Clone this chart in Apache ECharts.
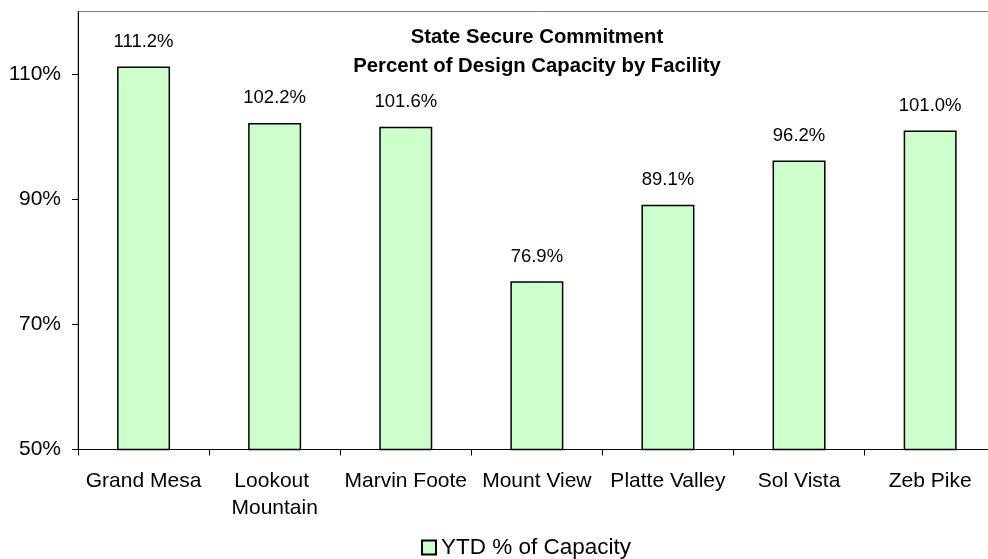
<!DOCTYPE html>
<html>
<head>
<meta charset="utf-8">
<script src="https://cdn.jsdelivr.net/npm/echarts@6/dist/echarts.min.js"></script>
<style>html,body{margin:0;padding:0;background:#fff;overflow:hidden;width:988px;height:559px}#c{width:998px;height:559px}</style>
</head>
<body>
<div id="c"></div>
<script>
var categories = ["Grand Mesa", "Lookout Mountain", "Marvin Foote", "Mount View", "Platte Valley", "Sol Vista", "Zeb Pike"];
var ytdCapacity = [111.2, 102.2, 101.6, 76.9, 89.1, 96.2, 101.0];
var yTicks = [50, 70, 90, 110];
var seriesName = "YTD % of Capacity";
var titleLines = ["State Secure Commitment", "Percent of Design Capacity by Facility"];

var FONT = '"Liberation Sans", Arial, sans-serif';
var chart = echarts.init(document.getElementById('c'), null, {renderer: 'canvas'});
chart.setOption({
  animation: false,
  backgroundColor: '#ffffff',
  title: {
    text: titleLines.join('\n'),
    left: 537,
    textAlign: 'center',
    top: 23,
    padding: 0,
    textStyle: {fontFamily: FONT, fontSize: 20.3, fontWeight: 'bold', color: '#000', lineHeight: 29}
  },
  legend: {
    data: [seriesName],
    left: 421,
    top: 536,
    padding: 0,
    icon: 'rect',
    itemWidth: 14,
    itemHeight: 14,
    itemGap: 5,
    textStyle: {fontFamily: FONT, fontSize: 22.5, color: '#000', padding: [0, 0, 0, 0]}
  },
  grid: {
    left: 78, right: 0, top: 11.5, bottom: 109.5,
    show: true, borderColor: '#808080', borderWidth: 1, containLabel: false
  },
  xAxis: {
    type: 'category',
    data: categories,
    axisLine: {lineStyle: {color: '#000', width: 1}},
    axisTick: {show: true, length: 6, lineStyle: {color: '#000'}},
    axisLabel: {
      interval: 0, margin: 18, color: '#000', fontFamily: FONT, fontSize: 21,
      lineHeight: 27, width: 130, overflow: 'break'
    }
  },
  yAxis: {
    type: 'value',
    min: 50, max: 120,
    splitLine: {show: false},
    axisLine: {show: true, lineStyle: {color: '#000', width: 1}},
    axisTick: {show: true, length: 6, lineStyle: {color: '#000'}, customValues: yTicks},
    axisLabel: {
      customValues: yTicks, margin: 17, color: '#000', fontFamily: FONT, fontSize: 21,
      formatter: function (v) { return v + '%'; }
    }
  },
  series: [{
    name: seriesName,
    type: 'bar',
    data: ytdCapacity,
    barWidth: 53,
    itemStyle: {color: '#CCFFCC', borderColor: '#000', borderWidth: 1.5},
    label: {
      show: true, position: 'top', distance: 15, color: '#000',
      fontFamily: FONT, fontSize: 18.5,
      formatter: function (p) { return p.value.toFixed(1) + '%'; }
    }
  }]
});
</script>
</body>
</html>
